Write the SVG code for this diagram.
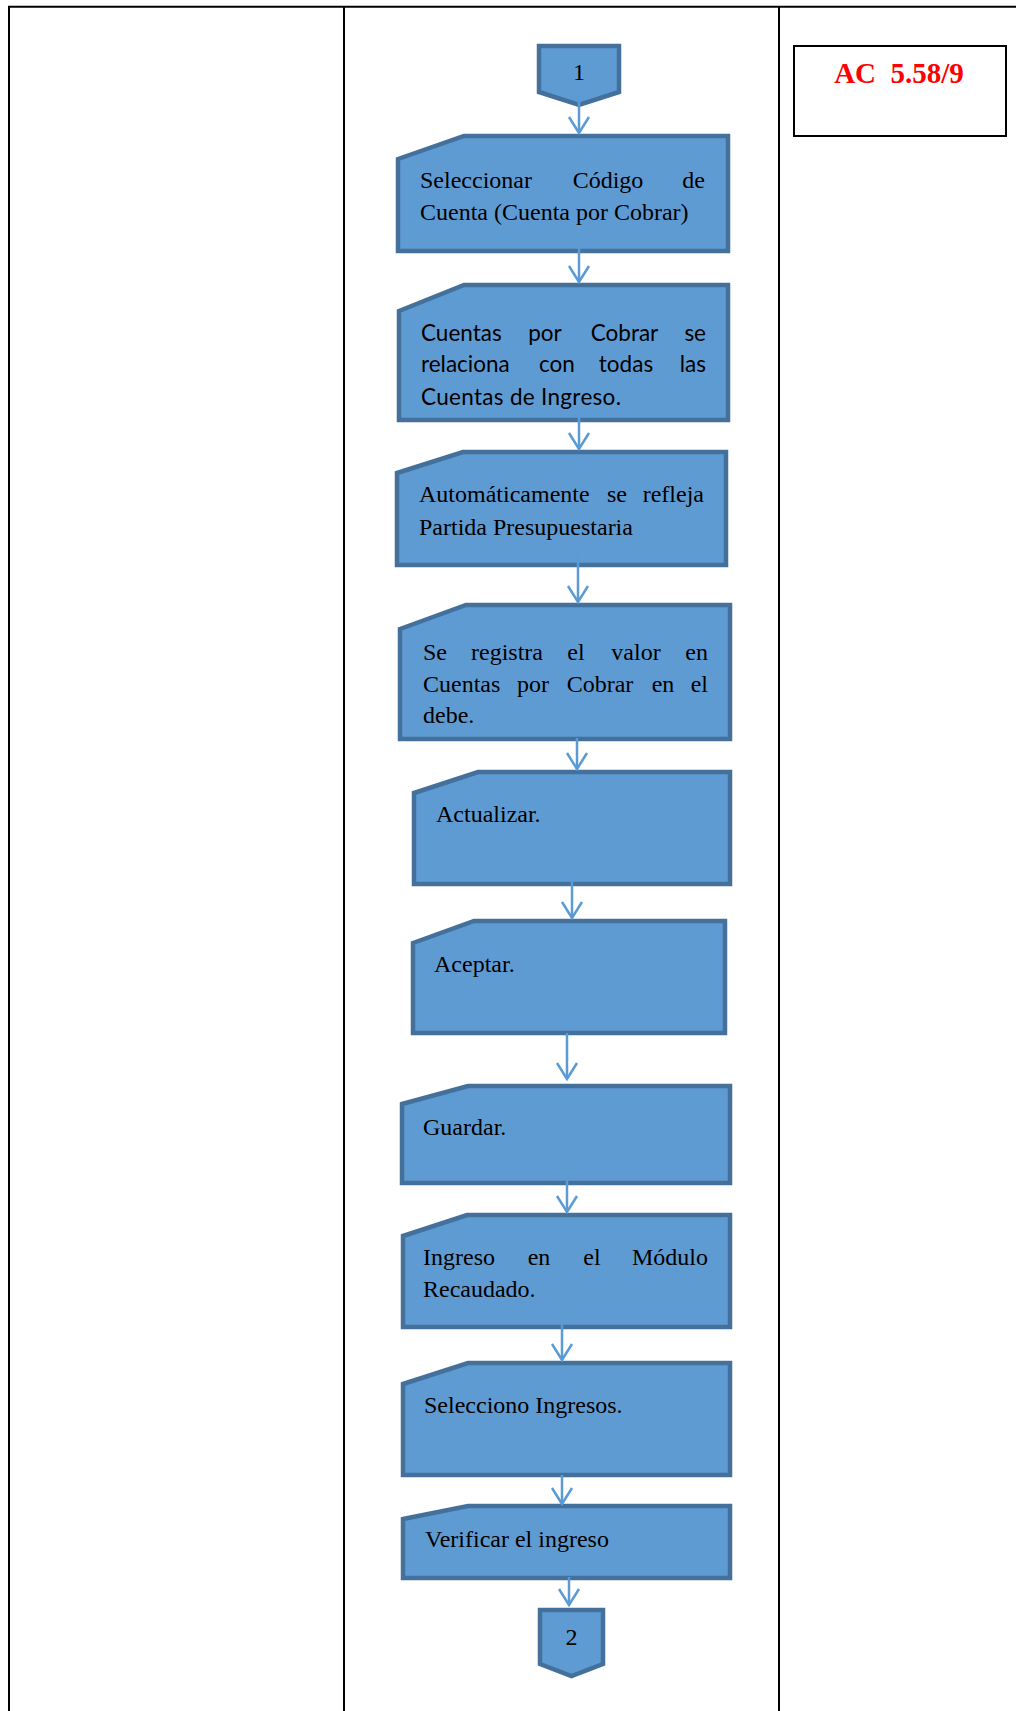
<svg xmlns="http://www.w3.org/2000/svg" width="1016" height="1711" viewBox="0 0 1016 1711">
  <defs>
    <style>
      .grid { stroke: #000; stroke-width: 2; fill: none; }
      .node { fill: #5f9bd3; stroke: #44709c; stroke-width: 4.5; stroke-linejoin: miter; }
      .conn { stroke: #5b9bd5; stroke-width: 2.5; fill: none; marker-end: url(#chevron); }
      .t { font-family: "Liberation Serif", "Times New Roman", serif; font-size: 24px; fill: #000; }
      .c { font-family: Lato, "Liberation Sans", sans-serif; font-size: 22.5px; fill: #000; }
      .mid { text-anchor: middle; }
      .end { text-anchor: end; }
      .code { font-family: "Liberation Serif", "Times New Roman", serif; font-size: 29px; font-weight: bold; fill: #ff0000; text-anchor: middle; }
    </style>
    <marker id="chevron" markerUnits="userSpaceOnUse" viewBox="-20 -12 22 24" markerWidth="22" markerHeight="24" refX="0" refY="0" orient="auto">
      <path d="M-16,-10 L0,0 L-16,10" fill="none" stroke="#5b9bd5" stroke-width="2.5"/>
    </marker>
  </defs>

  <!-- table frame -->
  <g id="table">
    <line class="grid" x1="8" y1="6.7" x2="1016" y2="6.7"/>
    <line class="grid" x1="9" y1="6" x2="9" y2="1711"/>
    <line class="grid" x1="344" y1="6" x2="344" y2="1711"/>
    <line class="grid" x1="779" y1="6" x2="779" y2="1711"/>
  </g>

  <!-- reference code box -->
  <g id="code-box">
    <rect x="794" y="46" width="212" height="90" fill="#fff" stroke="#000" stroke-width="2"/>
    <text class="code" x="899" y="83" xml:space="preserve">AC  5.58/9</text>
  </g>

  <!-- off-page connector 1 -->
  <g id="start-1">
    <path class="node" d="M539,46 L619,46 L619,92 L579,105 L539,92 Z"/>
    <text class="t mid" x="579" y="80">1</text>
  </g>

  <g id="n-seleccionar-codigo">
    <path class="node" d="M398,159 L464,136 L728,136 L728,251 L398,251 Z"/>
    <text class="t" x="420" y="188">Seleccionar</text>
    <text class="t mid" x="608" y="188">Código</text>
    <text class="t end" x="705" y="188">de</text>
    <text class="t" x="420" y="220">Cuenta (Cuenta por Cobrar)</text>
  </g>

  <g id="n-cuentas-relaciona">
    <path class="node" d="M399,311 L464,285 L728,285 L728,420 L399,420 Z"/>
    <text class="c" x="421" y="341">Cuentas</text>
    <text class="c mid" x="545" y="341">por</text>
    <text class="c mid" x="624.5" y="341">Cobrar</text>
    <text class="c end" x="706" y="341">se</text>
    <text class="c" x="421" y="372">relaciona</text>
    <text class="c mid" x="557" y="372">con</text>
    <text class="c mid" x="626" y="372">todas</text>
    <text class="c end" x="706" y="372">las</text>
    <text class="c" x="421" y="405" textLength="200" lengthAdjust="spacing">Cuentas de Ingreso.</text>
  </g>

  <g id="n-automaticamente">
    <path class="node" d="M397,473 L463,452 L726,452 L726,565 L397,565 Z"/>
    <text class="t" x="419" y="502">Automáticamente</text>
    <text class="t mid" x="617" y="502">se</text>
    <text class="t end" x="704" y="502">refleja</text>
    <text class="t" x="419" y="535">Partida Presupuestaria</text>
  </g>

  <g id="n-registra-valor">
    <path class="node" d="M400,629 L466,605 L730,605 L730,739 L400,739 Z"/>
    <text class="t" x="423" y="660">Se</text>
    <text class="t mid" x="507" y="660">registra</text>
    <text class="t mid" x="576" y="660">el</text>
    <text class="t mid" x="636" y="660">valor</text>
    <text class="t end" x="708" y="660">en</text>
    <text class="t" x="423" y="692">Cuentas</text>
    <text class="t mid" x="533" y="692">por</text>
    <text class="t mid" x="600" y="692">Cobrar</text>
    <text class="t mid" x="663" y="692">en</text>
    <text class="t end" x="708" y="692">el</text>
    <text class="t" x="423" y="723">debe.</text>
  </g>

  <g id="n-actualizar">
    <path class="node" d="M414,793 L478,772 L730,772 L730,884 L414,884 Z"/>
    <text class="t" x="436" y="822">Actualizar.</text>
  </g>

  <g id="n-aceptar">
    <path class="node" d="M413,943 L474,921 L725,921 L725,1033 L413,1033 Z"/>
    <text class="t" x="434" y="972">Aceptar.</text>
  </g>

  <g id="n-guardar">
    <path class="node" d="M402,1104 L468,1086 L730,1086 L730,1183 L402,1183 Z"/>
    <text class="t" x="423" y="1135">Guardar.</text>
  </g>

  <g id="n-ingreso-modulo">
    <path class="node" d="M403,1236 L467,1215 L730,1215 L730,1327 L403,1327 Z"/>
    <text class="t" x="423" y="1265">Ingreso</text>
    <text class="t mid" x="539" y="1265">en</text>
    <text class="t mid" x="592" y="1265">el</text>
    <text class="t end" x="708" y="1265">Módulo</text>
    <text class="t" x="423" y="1297">Recaudado.</text>
  </g>

  <g id="n-selecciono-ingresos">
    <path class="node" d="M403,1384 L468,1363 L730,1363 L730,1475 L403,1475 Z"/>
    <text class="t" x="424" y="1413">Selecciono Ingresos.</text>
  </g>

  <g id="n-verificar-ingreso">
    <path class="node" d="M403,1519 L468,1506 L730,1506 L730,1578 L403,1578 Z"/>
    <text class="t" x="425" y="1547">Verificar el ingreso</text>
  </g>

  <!-- off-page connector 2 -->
  <g id="end-2">
    <path class="node" d="M540,1610 L603,1610 L603,1664 L571.5,1676 L540,1664 Z"/>
    <text class="t mid" x="571.5" y="1645">2</text>
  </g>

  <!-- flow arrows -->
  <g id="connectors">
    <path class="conn" d="M579,90 L579,133"/>
    <path class="conn" d="M579,248 L579,282"/>
    <path class="conn" d="M579,410 L579,449"/>
    <path class="conn" d="M578,553 L578,602"/>
    <path class="conn" d="M577,738 L577,769"/>
    <path class="conn" d="M572,877 L572,918"/>
    <path class="conn" d="M567,1033 L567,1079"/>
    <path class="conn" d="M567,1177 L567,1212"/>
    <path class="conn" d="M562,1322 L562,1360"/>
    <path class="conn" d="M562,1475 L562,1504"/>
    <path class="conn" d="M569,1577 L569,1605"/>
  </g>
</svg>
